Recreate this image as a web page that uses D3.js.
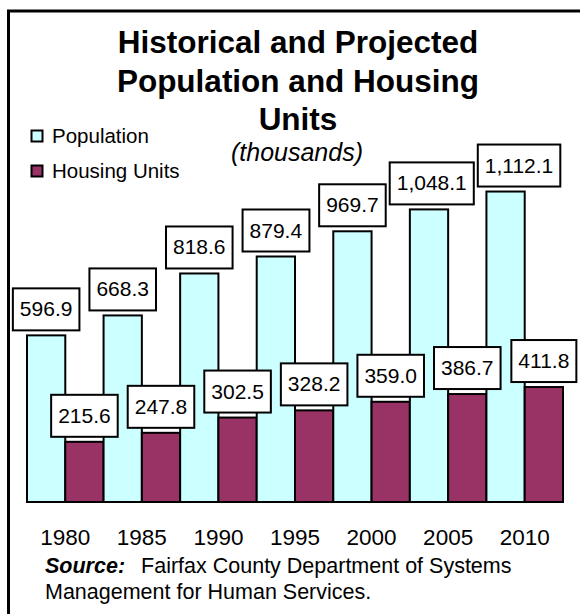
<!DOCTYPE html>
<html>
<head>
<meta charset="utf-8">
<script src="https://cdn.jsdelivr.net/npm/d3@7"></script>
<style>
  body { margin: 0; background: #fff; }
  svg { font-family: Arial, "Liberation Sans", sans-serif; }
</style>
</head>
<body>
<div id="chart"></div>
<script>
var years = ["1980", "1985", "1990", "1995", "2000", "2005", "2010"];
var population = [596.9, 668.3, 818.6, 879.4, 969.7, 1048.1, 1112.1];
var housing = [215.6, 247.8, 302.5, 328.2, 359.0, 386.7, 411.8];
var seriesNames = ["Population", "Housing Units"];
var titleLines = ["Historical and Projected", "Population and Housing", "Units"];

var W = 580, H = 614;
var colors = ["#ccffff", "#993366"];

var svg = d3.select("#chart").append("svg")
    .attr("width", W)
    .attr("height", H);

// frame (only top and left edges show in the picture)
svg.append("path")
    .attr("d", "M8.5,614 L8.5,11 L580,11")
    .attr("fill", "none")
    .attr("stroke", "#000")
    .attr("stroke-width", 3);

// title
svg.append("g").selectAll("text")
    .data(titleLines)
    .enter().append("text")
    .attr("x", 298)
    .attr("y", function (d, i) { return 53 + i * 38.5; })
    .attr("text-anchor", "middle")
    .style("font-size", "31.5px")
    .style("font-weight", "bold")
    .text(function (d) { return d; });

svg.append("text")
    .attr("x", 297)
    .attr("y", 161)
    .attr("text-anchor", "middle")
    .style("font-size", "25px")
    .style("font-style", "italic")
    .text("(thousands)");

// legend
var legend = svg.append("g").selectAll("g")
    .data(seriesNames)
    .enter().append("g")
    .attr("transform", function (d, i) { return "translate(31.5," + (130.5 + i * 35) + ")"; });
legend.append("rect")
    .attr("width", 11).attr("height", 11)
    .attr("fill", function (d, i) { return colors[i]; })
    .attr("stroke", "#000").attr("stroke-width", 2);
legend.append("text")
    .attr("x", 20.5).attr("y", 12.5)
    .style("font-size", "20.5px")
    .text(function (d) { return d; });

// scales
var x0 = d3.scaleBand().domain(years).range([27, 563]).paddingInner(0).paddingOuter(0);
var x1 = d3.scaleBand().domain([0, 1]).range([0, x0.bandwidth()]);
var y = d3.scaleLinear().domain([0, 1200]).range([502, 167]);

var rows = years.map(function (yr, i) {
    return {year: yr, values: [population[i], housing[i]]};
});

var groups = svg.append("g").selectAll("g")
    .data(rows)
    .enter().append("g")
    .attr("transform", function (d) { return "translate(" + x0(d.year) + ",0)"; });

groups.selectAll("rect")
    .data(function (d) { return d.values; })
    .enter().append("rect")
    .attr("x", function (d, i) { return x1(i); })
    .attr("y", function (d) { return y(d); })
    .attr("width", x1.bandwidth())
    .attr("height", function (d) { return y(0) - y(d); })
    .attr("fill", function (d, i) { return colors[i]; })
    .attr("stroke", "#000")
    .attr("stroke-width", 2);

// baseline
svg.append("line")
    .attr("x1", 27).attr("x2", 563)
    .attr("y1", 502).attr("y2", 502)
    .attr("stroke", "#000").attr("stroke-width", 2);

// value labels in boxes, drawn on top of every bar
var fmt = d3.format(",.1f");
var labelData = [];
rows.forEach(function (r) {
    r.values.forEach(function (v, s) {
        labelData.push({year: r.year, s: s, v: v});
    });
});
var boxH = 42, pad = 7, gap = 5;
var lastRight = [-1e9, -1e9];
var labels = svg.append("g").selectAll("g")
    .data(labelData)
    .enter().append("g");
labels.append("text")
    .attr("x", function (d) { return x0(d.year) + x1(d.s) + x1.bandwidth() / 2; })
    .attr("y", function (d) { return y(d.v) - gap - boxH + 28; })
    .attr("text-anchor", "middle")
    .style("font-size", "21px")
    .text(function (d) { return fmt(d.v); });
labels.each(function (d) {
    var g = d3.select(this);
    var t = g.select("text");
    var bb = t.node().getBBox();
    var bx = bb.x - pad, bw = bb.width + pad * 2;
    // keep neighbouring boxes of the same series from touching
    if (bx < lastRight[d.s] + 4) {
        var shift = lastRight[d.s] + 4 - bx;
        bx += shift;
        t.attr("x", +t.attr("x") + shift);
    }
    lastRight[d.s] = bx + bw;
    g.insert("rect", "text")
        .attr("x", bx)
        .attr("y", y(d.v) - gap - boxH)
        .attr("width", bw)
        .attr("height", boxH)
        .attr("fill", "#fff")
        .attr("stroke", "#000")
        .attr("stroke-width", 2);
});

// x axis labels
var xAxis = svg.append("g")
    .attr("transform", "translate(0,502)")
    .call(d3.axisBottom(x0).tickSize(0).tickPadding(27));
xAxis.select(".domain").remove();
xAxis.selectAll("text")
    .style("font-family", "Arial, 'Liberation Sans', sans-serif")
    .style("font-size", "22.5px")
    .attr("fill", "#000");

// source
var src = svg.append("text").attr("x", 45).attr("y", 573).style("font-size", "21.5px");
src.append("tspan").style("font-weight", "bold").style("font-style", "italic").text("Source:");
src.append("tspan").attr("dx", 16).text("Fairfax County Department of Systems");
svg.append("text").attr("x", 45).attr("y", 599).style("font-size", "21.5px")
    .text("Management for Human Services.");
</script>
</body>
</html>
